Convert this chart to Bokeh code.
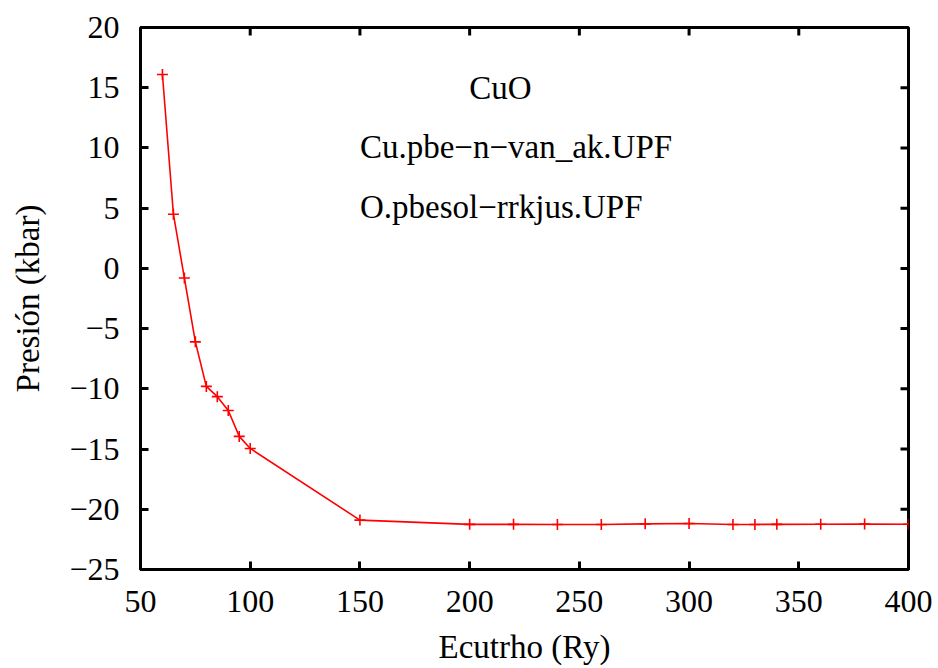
import math
from bokeh.plotting import figure
from bokeh.models import Label, FixedTicker, Range1d
from bokeh.embed import file_html
from bokeh.resources import INLINE

ecut = [60, 65, 70, 75, 80, 85, 90, 95, 100, 150, 200, 220, 240, 260, 280, 300, 320, 330, 340, 360, 380, 400]
pressure = [16.1, 4.5, -0.8, -6.1, -9.8, -10.65, -11.8, -13.95, -14.95, -20.9,
            -21.25, -21.25, -21.27, -21.26, -21.21, -21.18, -21.26, -21.26, -21.25, -21.24, -21.23, -21.24]

x_ticks = [50, 100, 150, 200, 250, 300, 350, 400]
y_ticks = [-25, -20, -15, -10, -5, 0, 5, 10, 15, 20]
y_tick_labels = ["\u221225", "\u221220", "\u221215", "\u221210", "\u22125", "0", "5", "10", "15", "20"]
annotations = ["CuO", "Cu.pbe\u2212n\u2212van_ak.UPF", "O.pbesol\u2212rrkjus.UPF"]

FONT = "'Liberation Serif', 'Times New Roman', Times, serif"
FS_TICK = "32px"
FS_LAB = "33px"

X0, X1, Y0, Y1 = 50, 400, -25, 20

p = figure(output_backend="svg", toolbar_location=None,
           x_range=Range1d(X0, X1), y_range=Range1d(Y0, Y1),
           frame_width=768, frame_height=542,
           min_border_left=140, min_border_right=30, min_border_top=27, min_border_bottom=99)
p.xgrid.visible = False
p.ygrid.visible = False
p.outline_line_color = "black"
p.outline_line_width = 3
p.background_fill_color = "white"
p.border_fill_color = "white"

p.line(ecut, pressure, line_color="red", line_width=1.6)
p.scatter(ecut, pressure, marker="cross", size=11, line_color="red", line_width=1.6)

# mirrored inward ticks on right and top edges
p.ray(x=[X1] * len(y_ticks), y=y_ticks, length=8, length_units="screen", angle=math.pi,
      line_color="black", line_width=3)
p.ray(x=x_ticks, y=[Y1] * len(x_ticks), length=8, length_units="screen", angle=-math.pi / 2,
      line_color="black", line_width=3)

def style(ax):
    ax.axis_line_color = None
    ax.major_tick_in = 8
    ax.major_tick_out = 0
    ax.major_tick_line_width = 3
    ax.major_tick_line_color = "black"
    ax.minor_tick_line_color = None
    ax.major_label_text_font = FONT
    ax.major_label_text_font_size = FS_TICK
    ax.major_label_text_color = "black"
    ax.axis_label_text_font = FONT
    ax.axis_label_text_font_size = FS_LAB
    ax.axis_label_text_font_style = "normal"
    ax.axis_label_text_color = "black"

xa = p.xaxis[0]
xa.ticker = FixedTicker(ticks=x_ticks)
xa.axis_label = "Ecutrho (Ry)"
style(xa)
xa.major_label_standoff = 21
xa.axis_label_standoff = 14

ya = p.yaxis[0]
ya.ticker = FixedTicker(ticks=y_ticks)
ya.major_label_overrides = {t: l for t, l in zip(y_ticks, y_tick_labels)}
ya.axis_label = "Presi\u00f3n (kbar)"
style(ya)
ya.major_label_standoff = 21
ya.axis_label_standoff = 20

for txt, lx, ly, al in [(annotations[0], 214, 15.0, "center"),
                        (annotations[1], 150, 10.1, "left"),
                        (annotations[2], 150, 5.1, "left")]:
    p.add_layout(Label(x=lx, y=ly, text=txt, text_align=al, text_baseline="alphabetic",
                       text_font=FONT, text_font_size=FS_LAB, text_color="black"))

open("out.html", "w").write(file_html(p, INLINE))
